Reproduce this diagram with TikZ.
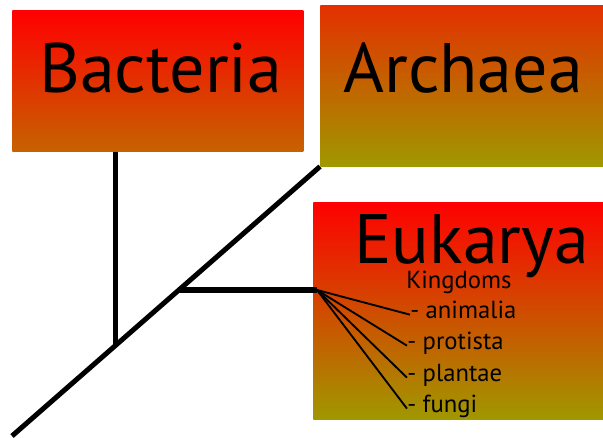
\documentclass[tikz,border=0pt]{standalone}
\usepackage{fontspec}
\setmainfont{PT Sans}
\usetikzlibrary{positioning,calc}

\definecolor{boxred}{RGB}{255,0,0}
\definecolor{boxorange}{RGB}{198,98,0}
\definecolor{boxtopb}{RGB}{228,48,0}
\definecolor{boxolive}{RGB}{160,152,0}

\begin{document}
\begin{tikzpicture}[x=0.75pt, y=-0.75pt,
  domainbox/.style={rectangle, draw=none, inner sep=0pt, anchor=north west},
  big/.style={font=\fontsize{52.5}{54}\selectfont, inner sep=0pt, anchor=base west},
  small/.style={font=\fontsize{18.5}{20}\selectfont, inner sep=0pt, anchor=base west},
  trunk/.style={line width=3.75pt},
  twig/.style={line width=1.4pt}]
  \useasboundingbox (0,0) rectangle (603,438);
  % domain boxes
  \node[domainbox, top color=boxred, bottom color=boxorange,
        minimum width=218.25pt, minimum height=105.75pt] (bacteria) at (12,10) {};
  \node[domainbox, top color=boxtopb, bottom color=boxolive,
        minimum width=213pt, minimum height=120.75pt] (archaea) at (320,5) {};
  \node[domainbox, top color=boxred, bottom color=boxolive,
        minimum width=218pt, minimum height=162.75pt] (eukarya) at (313,202) {};
  % labels
  \node[big] (bactlbl) at (39,93) {Bacteria};
  \node[big] (archlbl) at (343,93) {Archaea};
  \node[big, text depth=0pt] (eukalbl) at (354,264) {Eukarya};
  \node[small] (kingdoms) at (406,288) {Kingdoms};
  \node[small] (anim) at (410,318) {- animalia};
  \node[small] (prot) at (407,349) {- protista};
  \node[small] (plan) at (407,381) {- plantae};
  \node[small] (fung) at (407,412) {- fungi};
  % tree
  \coordinate (root) at (12,436);
  \coordinate (bsplit) at (115,346);
  \coordinate (esplit) at (178,290);
  \coordinate (fan) at (317,290);
  \draw[trunk] (root) -- (archaea.south west);
  \draw[trunk] (bacteria.south west -| bsplit) -- (bsplit);
  \draw[trunk] (esplit) -- (fan);
  \foreach \k in {anim, prot, plan, fung}
    \draw[twig] (fan) -- (\k.mid west);
\end{tikzpicture}
\end{document}
